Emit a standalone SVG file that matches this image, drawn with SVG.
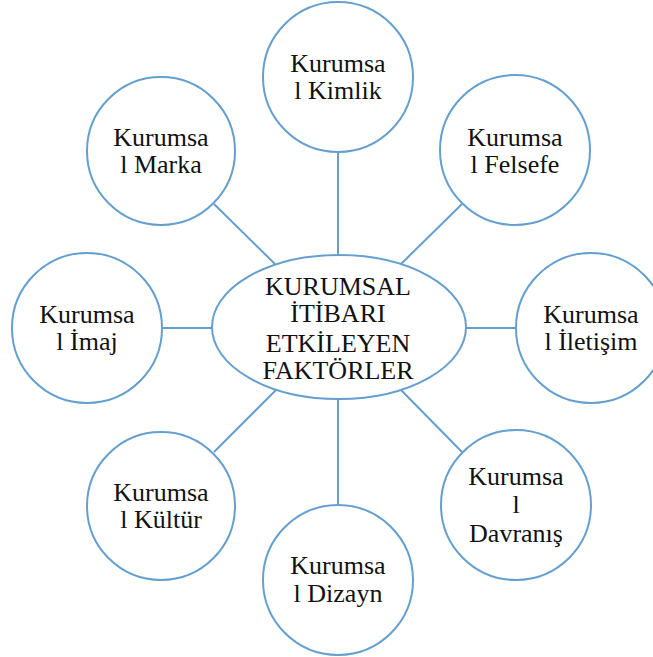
<svg xmlns="http://www.w3.org/2000/svg" width="653" height="657" viewBox="0 0 653 657">
<style>
.n{fill:#fff;stroke:#649fd0;stroke-width:2}
.c line{stroke:#649fd0;stroke-width:2}
.t text{font-size:26px;fill:#111;text-anchor:middle}
</style>
<rect width="653" height="657" fill="#fff"/>
<g class="c" id="connectors">
<line x1="338" y1="151" x2="338" y2="255"/>
<line x1="338" y1="400" x2="338" y2="505"/>
<line x1="162" y1="328" x2="212" y2="328"/>
<line x1="466" y1="328" x2="516" y2="328"/>
<line x1="214" y1="204" x2="276" y2="265"/>
<line x1="462" y1="204" x2="401" y2="264"/>
<line x1="214" y1="452" x2="276" y2="390"/>
<line x1="462" y1="452" x2="401" y2="390"/>
</g>
<g class="t" font-family="Liberation Serif, Times New Roman, DejaVu Serif, serif">
<g id="center">
<ellipse class="n" cx="339" cy="327" rx="127" ry="72"/>
<text x="338" y="295">KURUMSAL</text>
<text x="338" y="322">İTİBARI</text>
<text x="338" y="352">ETKİLEYEN</text>
<text x="338" y="379">FAKTÖRLER</text>
</g>
<g id="kimlik">
<circle class="n" cx="338" cy="77" r="75"/>
<text x="338" y="72">Kurumsa</text>
<text x="338" y="99">l Kimlik</text>
</g>
<g id="marka">
<circle class="n" cx="161" cy="151" r="74"/>
<text x="161" y="146">Kurumsa</text>
<text x="161" y="173">l Marka</text>
</g>
<g id="felsefe">
<circle class="n" cx="515" cy="150" r="75"/>
<text x="515" y="146">Kurumsa</text>
<text x="515" y="173">l Felsefe</text>
</g>
<g id="imaj">
<circle class="n" cx="87" cy="328" r="75"/>
<text x="87" y="323">Kurumsa</text>
<text x="87" y="350">l İmaj</text>
</g>
<g id="iletisim">
<circle class="n" cx="591" cy="328" r="75"/>
<text x="591" y="323">Kurumsa</text>
<text x="591" y="350">l İletişim</text>
</g>
<g id="kultur">
<circle class="n" cx="161" cy="506" r="74"/>
<text x="161" y="501">Kurumsa</text>
<text x="161" y="528">l Kültür</text>
</g>
<g id="davranis">
<circle class="n" cx="516" cy="505" r="75"/>
<text x="516" y="485">Kurumsa</text>
<text x="516" y="513">l</text>
<text x="516" y="542">Davranış</text>
</g>
<g id="dizayn">
<circle class="n" cx="338" cy="580" r="75"/>
<text x="338" y="574">Kurumsa</text>
<text x="338" y="602">l Dizayn</text>
</g>
</g>
</svg>
